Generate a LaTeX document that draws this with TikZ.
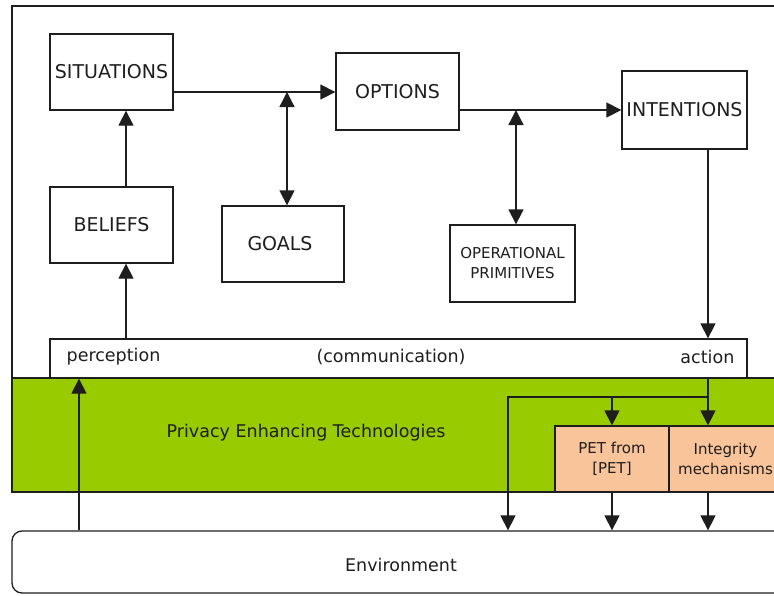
\documentclass[tikz,border=0pt]{standalone}
\usepackage{fontspec}
\setmainfont{DejaVu Sans}
\usetikzlibrary{arrows.meta}
\definecolor{petgreen}{HTML}{99CC00}
\definecolor{petpeach}{HTML}{FAC49A}
\definecolor{ink}{HTML}{1E1E1E}
\begin{document}
\begin{tikzpicture}[x=1pt,y=-1pt,line width=1.3pt,color=ink,
  box/.style={draw=ink,line width=1.3pt,fill=white,inner sep=0pt,align=center,text=ink,font=\fontsize{19}{22}\selectfont},
  smallbox/.style={box,font=\fontsize{15}{20}\selectfont},
  petbox/.style={draw=ink,line width=1.3pt,fill=petpeach,inner sep=0pt,align=center,text=ink,font=\fontsize{15}{20}\selectfont},
  lbl/.style={inner sep=0pt,text=ink,font=\fontsize{17.5}{20}\selectfont},
  arr/.style={-{Triangle[length=15pt,width=15pt]}},
  darr/.style={{Triangle[length=15pt,width=15pt]}-{Triangle[length=15pt,width=15pt]}}
]
\useasboundingbox (0,0) rectangle (774,595);
\clip (0,0) rectangle (774,595);
\fill[white] (0,0) rectangle (774,595);
% outer frame
\draw (12,6) rectangle (790,492);
% green band
\filldraw[fill=petgreen] (12,378) rectangle (790,492);
\node[lbl] (pettext) at (306,433) {Privacy Enhancing Technologies};
% communication bar
\node[box,minimum width=697pt,minimum height=39pt] (bar) at (398.5,358.5) {};
\node[lbl,anchor=west] (perc) at (66,357) {perception};
\node[lbl] (comm) at (391,357) {(communication)};
\node[lbl,anchor=east] (act) at (735,357) {action};
% boxes
\node[box,minimum width=123pt,minimum height=76pt] (sit) at (111.5,72) {SITUATIONS};
\node[box,minimum width=123pt,minimum height=76pt] (bel) at (111.5,225) {BELIEFS};
\node[box,minimum width=122pt,minimum height=76pt,text width=122pt,align=center] (goa) at (283,244) {\hspace*{-6pt}GOALS};
\node[box,minimum width=123pt,minimum height=77pt] (opt) at (397.5,91.5) {OPTIONS};
\node[box,minimum width=125pt,minimum height=78pt] (int) at (684.5,110) {INTENTIONS};
\node[smallbox,minimum width=125pt,minimum height=77pt] (opp) at (512.5,263.5) {OPERATIONAL\\PRIMITIVES};
\node[petbox,minimum width=114pt,minimum height=66pt] (pet) at (612,459) {PET from\\{[PET]}};
\node[petbox,minimum width=113pt,minimum height=66pt] (ing) at (725.5,459) {Integrity\\mechanisms};
% environment
\node[box,rounded corners=10pt,minimum width=790pt,minimum height=62pt] (env) at (407,562) {};
\node[lbl] (envtext) at (401,565) {Environment};
% junction coordinates
\coordinate (j1) at (287,92);
\coordinate (j2) at (516,110);
\coordinate (cb) at (126,0);
\coordinate (ca) at (708,397);
\coordinate (cl) at (508,397);
\coordinate (cp) at (612,397);
\coordinate (cx) at (79,0);
% connectors
\draw[arr] (sit.east |- j1) -- (opt.west |- j1);
\draw[darr] (j1) -- (j1 |- goa.north);
\draw[arr] (opt.east |- j2) -- (int.west |- j2);
\draw[darr] (j2) -- (j2 |- opp.north);
\draw[arr] (cb |- bel.north) -- (cb |- sit.south);
\draw[arr] (cb |- bar.north) -- (cb |- bel.south);
\draw[arr] (ca |- int.south) -- (ca |- bar.north);
\draw[arr] (cx |- env.north) -- (cx |- bar.south);
\draw (ca |- bar.south) -- (ca);
\draw[arr] (ca) -- (ca |- ing.north);
\draw[arr] (ca) -- (cl) -- (cl |- env.north);
\draw[arr] (cp) -- (cp |- pet.north);
\draw[arr] (cp |- pet.south) -- (cp |- env.north);
\draw[arr] (ca |- ing.south) -- (ca |- env.north);
\end{tikzpicture}
\end{document}
